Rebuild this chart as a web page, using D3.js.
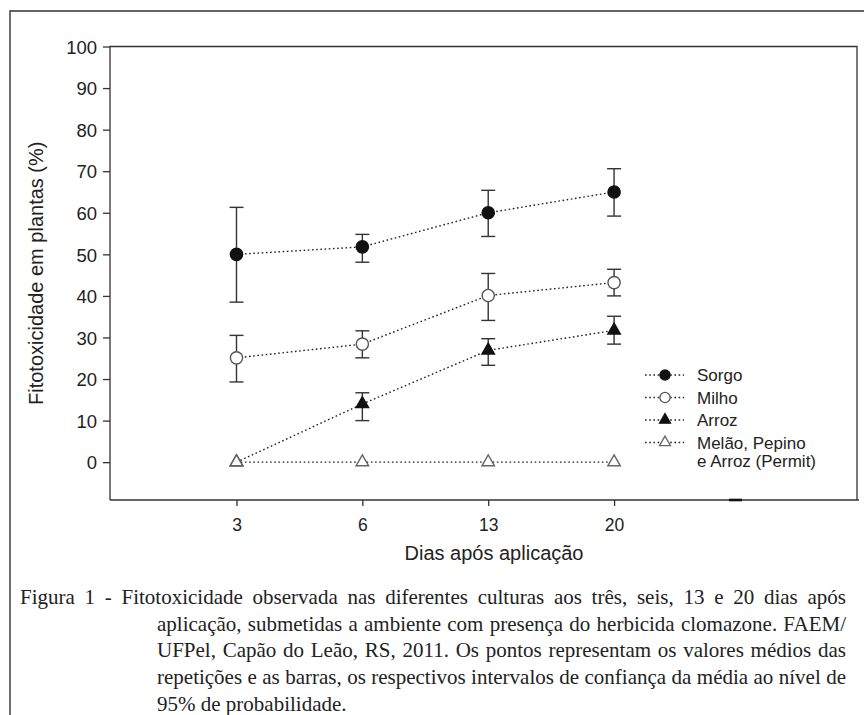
<!DOCTYPE html>
<html>
<head>
<meta charset="utf-8">
<script src="https://cdn.jsdelivr.net/npm/d3@7"></script>
<style>
  html, body { margin: 0; padding: 0; background: #fff; }
  svg { display: block; }
</style>
</head>
<body>
<svg id="chart"></svg>
<script>
'use strict';

var days = ['3', '6', '13', '20'];
var yTicks = [0, 10, 20, 30, 40, 50, 60, 70, 80, 90, 100];

var sorgo = [50, 51.8, 60, 65];
var sorgoLow = [38.5, 48.1, 54.3, 59.2];
var sorgoHigh = [61.3, 54.8, 65.4, 70.6];

var milho = [25.1, 28.4, 40.1, 43.2];
var milhoLow = [19.3, 25.1, 34.1, 40.0];
var milhoHigh = [30.5, 31.6, 45.4, 46.4];

var arroz = [0, 14, 26.9, 31.7];
var arrozLow = [null, 10, 23.3, 28.4];
var arrozHigh = [null, 16.7, 29.7, 35.1];

var melao = [0, 0, 0, 0];

var legendLabels = ['Sorgo', 'Milho', 'Arroz', 'Melão, Pepino', 'e Arroz (Permit)'];

var yTitle = 'Fitotoxicidade em plantas (%)';
var xTitle = 'Dias após aplicação';

var captionLines = [
  'Figura 1 - Fitotoxicidade observada nas diferentes culturas aos três, seis, 13 e 20 dias após',
  'aplicação, submetidas a ambiente com presença do herbicida clomazone. FAEM/',
  'UFPel, Capão do Leão, RS, 2011. Os pontos representam os valores médios das',
  'repetições e as barras, os respectivos intervalos de confiança da média ao nível de',
  '95% de probabilidade.'
];

var width = 864,
  height = 715,
  plotLeft = 110,
  plotRight = 857,
  plotTop = 46.5,
  plotBottom = 500,
  sans = 'Arial, "Liberation Sans", Helvetica, sans-serif',
  serif = '"Times New Roman", "Liberation Serif", serif',
  ink = '#222';

var svg = d3.select('#chart').attr('width', width).attr('height', height);

// linear scale over the category index so that the plot leaves room on both sides
var x = d3.scaleLinear().domain([-1.005, 4.93]).range([plotLeft, plotRight]);
var y = d3.scaleLinear().domain([-9.1, 100]).range([plotBottom, plotTop]);

// outer frame of the figure
svg.append('path')
  .attr('d', 'M10,' + height + 'V11H' + width)
  .attr('fill', 'none').attr('stroke', '#333').attr('stroke-width', 1.4);

// plot box
svg.append('path')
  .attr('d', 'M' + plotLeft + ',' + plotBottom + 'V' + plotTop + 'H' + plotRight + 'V' + plotBottom)
  .attr('fill', 'none').attr('stroke', '#333').attr('stroke-width', 1.3);
svg.append('line')
  .attr('x1', plotLeft).attr('x2', plotRight + 2).attr('y1', plotBottom).attr('y2', plotBottom)
  .attr('stroke', '#333').attr('stroke-width', 1.3);
svg.append('line')
  .attr('x1', 729).attr('x2', 742).attr('y1', plotBottom).attr('y2', plotBottom)
  .attr('stroke', '#111').attr('stroke-width', 2.6);

var yAxis = svg.append('g')
  .attr('transform', 'translate(' + plotLeft + ',0)')
  .call(d3.axisLeft(y).tickValues(yTicks).tickSize(7).tickSizeOuter(0).tickPadding(6));

var xAxis = svg.append('g')
  .attr('transform', 'translate(0,' + plotBottom + ')')
  .call(d3.axisBottom(x).tickValues(d3.range(days.length))
    .tickFormat(function (i) { return days[i]; })
    .tickSize(6).tickSizeOuter(0).tickPadding(13));

[yAxis, xAxis].forEach(function (g) {
  g.select('.domain').remove();
  g.selectAll('.tick line').attr('stroke', '#333').attr('stroke-width', 1.3);
  g.selectAll('.tick text').attr('fill', ink).style('font-family', sans);
});
yAxis.selectAll('.tick text').style('font-size', '18.5px').attr('dy', '0.36em');
xAxis.selectAll('.tick text').style('font-size', '17.5px');

svg.append('text')
  .attr('transform', 'translate(43,' + ((plotTop + plotBottom) / 2) + ') rotate(-90)')
  .attr('text-anchor', 'middle')
  .style('font-family', sans).style('font-size', '20px').attr('fill', ink)
  .text(yTitle);

svg.append('text')
  .attr('x', 494).attr('y', 560)
  .attr('text-anchor', 'middle')
  .style('font-family', sans).style('font-size', '20px').attr('fill', ink)
  .text(xTitle);

function symbolPath(type, size) {
  return d3.symbol().type(type).size(size)();
}

var series = [
  {values: sorgo, low: sorgoLow, high: sorgoHigh, type: d3.symbolCircle, size: 118, fill: '#111', stroke: '#111'},
  {values: milho, low: milhoLow, high: milhoHigh, type: d3.symbolCircle, size: 118, fill: '#fff', stroke: '#555'},
  {values: arroz, low: arrozLow, high: arrozHigh, type: d3.symbolTriangle, size: 68, fill: '#111', stroke: '#111'},
  {values: melao, low: null, high: null, type: d3.symbolTriangle, size: 68, fill: '#fff', stroke: '#666'}
];

var line = d3.line()
  .x(function (d, i) { return x(i); })
  .y(function (d) { return y(d); });

series.forEach(function (s) {
  var g = svg.append('g');

  g.append('path')
    .attr('d', line(s.values))
    .attr('fill', 'none').attr('stroke', '#222')
    .attr('stroke-width', 1.4).attr('stroke-dasharray', '1.6,2.6');

  if (s.low) {
    s.values.forEach(function (v, i) {
      if (s.low[i] == null) return;
      var eb = g.append('g').attr('stroke', '#333').attr('stroke-width', 1.4);
      eb.append('line').attr('x1', x(i)).attr('x2', x(i)).attr('y1', y(s.low[i])).attr('y2', y(s.high[i]));
      eb.append('line').attr('x1', x(i) - 7).attr('x2', x(i) + 7).attr('y1', y(s.low[i])).attr('y2', y(s.low[i]));
      eb.append('line').attr('x1', x(i) - 7).attr('x2', x(i) + 7).attr('y1', y(s.high[i])).attr('y2', y(s.high[i]));
    });
  }

  g.selectAll('path.pt').data(s.values).enter().append('path')
    .attr('class', 'pt')
    .attr('transform', function (d, i) { return 'translate(' + x(i) + ',' + y(d) + ')'; })
    .attr('d', symbolPath(s.type, s.size))
    .attr('fill', s.fill).attr('stroke', s.stroke).attr('stroke-width', 1.4);
});

// legend
var legend = svg.append('g');
var rowY = [375, 397.5, 420, 442.5];
series.forEach(function (s, i) {
  legend.append('line')
    .attr('x1', 645).attr('x2', 684).attr('y1', rowY[i]).attr('y2', rowY[i])
    .attr('stroke', '#222').attr('stroke-width', 1.4).attr('stroke-dasharray', '1.6,2.6');
  legend.append('path')
    .attr('transform', 'translate(665,' + rowY[i] + ')')
    .attr('d', symbolPath(s.type, s.type === d3.symbolCircle ? 82 : 52))
    .attr('fill', s.fill).attr('stroke', s.stroke).attr('stroke-width', 1.3);
});
legendLabels.forEach(function (t, i) {
  legend.append('text')
    .attr('x', 697).attr('y', i < 4 ? rowY[i] + 6 : 467)
    .style('font-family', sans).style('font-size', '17px').attr('fill', ink)
    .text(t);
});

// caption, justified like the printed page
var captionX = [20, 157, 157, 157, 157],
  captionRight = 846,
  captionY0 = 604,
  captionStep = 26.7;

captionLines.forEach(function (t, i) {
  var txt = svg.append('text')
    .attr('x', captionX[i]).attr('y', captionY0 + i * captionStep)
    .style('font-family', serif).style('font-size', '21px').attr('fill', ink)
    .text(t);
  if (i < captionLines.length - 1) {
    var natural = txt.node().getComputedTextLength(),
      gaps = t.split(' ').length - 1,
      extra = (captionRight - captionX[i] - natural) / gaps;
    txt.style('word-spacing', extra + 'px');
  }
});
</script>
</body>
</html>
